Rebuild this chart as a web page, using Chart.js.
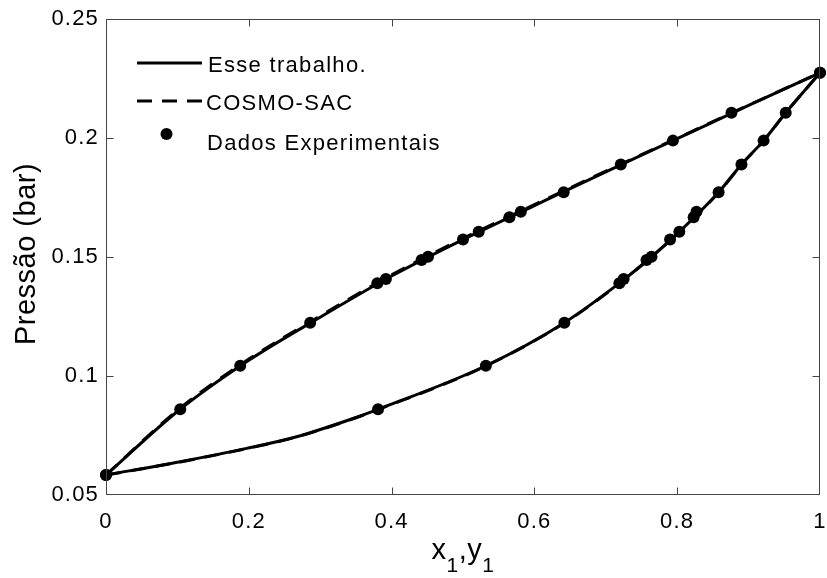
<!DOCTYPE html>
<html>
<head>
<meta charset="utf-8">
<script src="https://cdn.jsdelivr.net/npm/chart.js@4.4.1/dist/chart.umd.min.js"></script>
<style>
  html, body { margin: 0; padding: 0; background: #ffffff; }
  #wrap { width: 827px; height: 578px; position: relative; }
</style>
</head>
<body>
<div id="wrap"><canvas id="c"></canvas></div>
<script>
// ---------- data ----------
// experimental points (liquid x1 / vapour y1 share the same pressure)
const expLiqX = [0, 0.104, 0.188, 0.286, 0.380, 0.392, 0.442, 0.451, 0.500, 0.522, 0.565, 0.581, 0.641, 0.721, 0.794, 0.876, 1];
const expVapY = [0, 0.381, 0.532, 0.642, 0.719, 0.725, 0.757, 0.764, 0.790, 0.803, 0.823, 0.827, 0.858, 0.890, 0.921, 0.952, 1];
const expP    = [0.0584, 0.0860, 0.1043, 0.1224, 0.1390, 0.1408, 0.1487, 0.1501, 0.1574, 0.1606, 0.1667, 0.1690, 0.1772, 0.1889, 0.1989, 0.2106, 0.2274];

// "Esse trabalho." model curves
const modelLiqX = [0, 0.1, 0.2, 0.3, 0.4, 0.5, 0.6, 0.7, 0.8, 0.9, 1];
const modelLiqP = [0.0584, 0.0851, 0.1066, 0.1247, 0.1420, 0.1573, 0.1716, 0.1858, 0.1997, 0.2137, 0.2274];
const modelVapY = [0, 0.104, 0.197, 0.267, 0.337, 0.381, 0.532, 0.642, 0.719, 0.764, 0.803, 0.858, 0.890, 0.921, 0.952, 1];
const modelVapP = [0.0584, 0.0640, 0.0696, 0.0745, 0.0812, 0.0860, 0.1043, 0.1224, 0.1390, 0.1501, 0.1606, 0.1772, 0.1889, 0.1989, 0.2106, 0.2274];

// COSMO-SAC curves (almost coincident with the model)
const cosmoLiqX = [0, 0.1, 0.2, 0.3, 0.4, 0.5, 0.6, 0.7, 0.8, 0.9, 1];
const cosmoLiqP = [0.0584, 0.0856, 0.1071, 0.1252, 0.1425, 0.1578, 0.1720, 0.1861, 0.1999, 0.2138, 0.2274];
const cosmoVapY = [0, 0.104, 0.197, 0.267, 0.337, 0.381, 0.532, 0.642, 0.719, 0.764, 0.803, 0.858, 0.890, 0.921, 0.952, 1];
const cosmoVapP = [0.0584, 0.0639, 0.0695, 0.0744, 0.0811, 0.0859, 0.1042, 0.1223, 0.1389, 0.1500, 0.1605, 0.1771, 0.1888, 0.1988, 0.2106, 0.2274];

const xTicks = [0, 0.2, 0.4, 0.6, 0.8, 1];
const xTickLabels = ['0', '0.2', '0.4', '0.6', '0.8', '1'];
const yTicks = [0.05, 0.1, 0.15, 0.2, 0.25];
const yTickLabels = ['0.05', '0.1', '0.15', '0.2', '0.25'];

const legendLabels = ['Esse trabalho.', 'COSMO-SAC', 'Dados Experimentais'];
const yTitle = 'Pressão (bar)';

// ---------- build ----------
const pts = (xs, ys) => xs.map((x, i) => ({ x: x, y: ys[i] }));
const FONT = "'Liberation Sans', Arial, Helvetica, sans-serif";

const lineBase = {
  showLine: true, pointRadius: 0, pointHoverRadius: 0, borderColor: '#000',
  borderWidth: 3, cubicInterpolationMode: 'monotone', fill: false, clip: false
};

const datasets = [
  { label: legendLabels[2], data: pts(expLiqX, expP).concat(pts(expVapY, expP)), showLine: false,
    pointRadius: 6, pointHoverRadius: 6, pointBackgroundColor: '#000', pointBorderColor: '#000',
    pointBorderWidth: 0, order: 0, clip: false },
  Object.assign({ label: legendLabels[0], data: pts(modelLiqX, modelLiqP), order: 1 }, lineBase),
  Object.assign({ label: legendLabels[0] + ' (y)', data: pts(modelVapY, modelVapP), order: 1 }, lineBase),
  Object.assign({ label: legendLabels[1], data: pts(cosmoLiqX, cosmoLiqP), borderDash: [15, 10], order: 2 }, lineBase),
  Object.assign({ label: legendLabels[1] + ' (y)', data: pts(cosmoVapY, cosmoVapP), borderDash: [15, 10], order: 2 }, lineBase)
];

const decorPlugin = {
  id: 'decor',
  beforeDraw(chart) {
    chart.ctx.letterSpacing = '1.2px';
  },
  afterDraw(chart) {
    const ctx = chart.ctx;
    const a = chart.chartArea;
    const xs = chart.scales.x, ys = chart.scales.y;
    const L = Math.round(a.left) + 0.5, R = Math.round(a.right) - 0.5;
    const T = Math.round(a.top) + 0.5, B = Math.round(a.bottom) - 0.5;
    ctx.save();
    ctx.letterSpacing = '0px';
    // box
    ctx.strokeStyle = '#444';
    ctx.lineWidth = 1;
    ctx.setLineDash([]);
    ctx.strokeRect(L, T, R - L, B - T);
    // inward ticks on all four sides
    const tl = 7;
    ctx.beginPath();
    xTicks.forEach(v => {
      const p = Math.round(xs.getPixelForValue(v)) + 0.5;
      if (p <= L + 1 || p >= R - 1) return;
      ctx.moveTo(p, B); ctx.lineTo(p, B - tl);
      ctx.moveTo(p, T); ctx.lineTo(p, T + tl);
    });
    yTicks.forEach(v => {
      const p = Math.round(ys.getPixelForValue(v)) + 0.5;
      if (p <= T + 1 || p >= B - 1) return;
      ctx.moveTo(L, p); ctx.lineTo(L + tl, p);
      ctx.moveTo(R, p); ctx.lineTo(R - tl, p);
    });
    ctx.stroke();

    // legend (inside the axes, top-left)
    const lx0 = a.left + 31, lx1 = a.left + 96, tx = a.left + 101;
    const rows = [a.top + 44, a.top + 82, a.top + 115];
    ctx.strokeStyle = '#000';
    ctx.lineWidth = 3;
    ctx.beginPath(); ctx.moveTo(lx0, rows[0]); ctx.lineTo(lx1, rows[0]); ctx.stroke();
    ctx.setLineDash([15, 10]);
    ctx.beginPath(); ctx.moveTo(lx0, rows[1]); ctx.lineTo(lx1, rows[1]); ctx.stroke();
    ctx.setLineDash([]);
    ctx.fillStyle = '#000';
    ctx.beginPath(); ctx.arc((lx0 + lx1) / 2 - 3, rows[2], 6, 0, Math.PI * 2); ctx.fill();
    ctx.font = '22px ' + FONT;
    ctx.letterSpacing = '1.3px';
    ctx.textAlign = 'left';
    ctx.textBaseline = 'alphabetic';
    ctx.fillText(legendLabels[0], tx + 1, rows[0] + 9);
    ctx.fillText(legendLabels[1], tx - 1, rows[1] + 9);
    ctx.fillText(legendLabels[2], tx, rows[2] + 16);

    // y title
    ctx.save();
    ctx.translate(35, (a.top + a.bottom) / 2 - 3);
    ctx.rotate(-Math.PI / 2);
    ctx.font = '29px ' + FONT;
    ctx.letterSpacing = '0.5px';
    ctx.textAlign = 'center';
    ctx.textBaseline = 'alphabetic';
    ctx.fillText(yTitle, 0, 0);
    ctx.restore();

    // x title: x1,y1 with subscripts
    ctx.letterSpacing = '0.5px';
    const big = '29px ' + FONT, small = '21px ' + FONT;
    const parts = [['x', big, 0], ['1', small, 13], [',', big, 0], ['y', big, 0], ['1', small, 13]];
    let w = 0;
    parts.forEach(p => { ctx.font = p[1]; w += ctx.measureText(p[0]).width; });
    let cx = (a.left + a.right) / 2 - w / 2;
    const base = 559;
    ctx.textAlign = 'left';
    parts.forEach(p => {
      ctx.font = p[1];
      ctx.fillText(p[0], cx, base + p[2]);
      cx += ctx.measureText(p[0]).width;
    });
    ctx.restore();
  }
};

Chart.defaults.font.family = FONT;
Chart.defaults.font.size = 22;
Chart.defaults.color = '#000';

new Chart(document.getElementById('c'), {
  type: 'scatter',
  data: { datasets: datasets },
  options: {
    responsive: true,
    maintainAspectRatio: false,
    animation: false,
    events: [],
    layout: { padding: { top: 19, right: 7, left: 0, bottom: 0 } },
    plugins: { legend: { display: false }, tooltip: { enabled: false } },
    scales: {
      x: {
        type: 'linear', min: 0, max: 1,
        grid: { display: false, drawTicks: false },
        border: { display: false },
        afterBuildTicks: s => { s.ticks = xTicks.map(v => ({ value: v })); },
        afterFit: s => { s.height = 83; s.paddingLeft = 0; s.paddingRight = 0; },
        ticks: { padding: 14, maxRotation: 0, autoSkip: false,
          callback: (v) => { const i = xTicks.findIndex(t => Math.abs(t - v) < 1e-9); return i >= 0 ? xTickLabels[i] : ''; } }
      },
      y: {
        type: 'linear', min: 0.05, max: 0.25,
        grid: { display: false, drawTicks: false },
        border: { display: false },
        afterBuildTicks: s => { s.ticks = yTicks.map(v => ({ value: v })); },
        afterFit: s => { s.width = 106; s.paddingTop = 0; s.paddingBottom = 0; },
        ticks: { padding: 7, autoSkip: false,
          callback: (v) => { const i = yTicks.findIndex(t => Math.abs(t - v) < 1e-9); return i >= 0 ? yTickLabels[i] : ''; } }
      }
    }
  },
  plugins: [decorPlugin]
});
</script>
</body>
</html>
